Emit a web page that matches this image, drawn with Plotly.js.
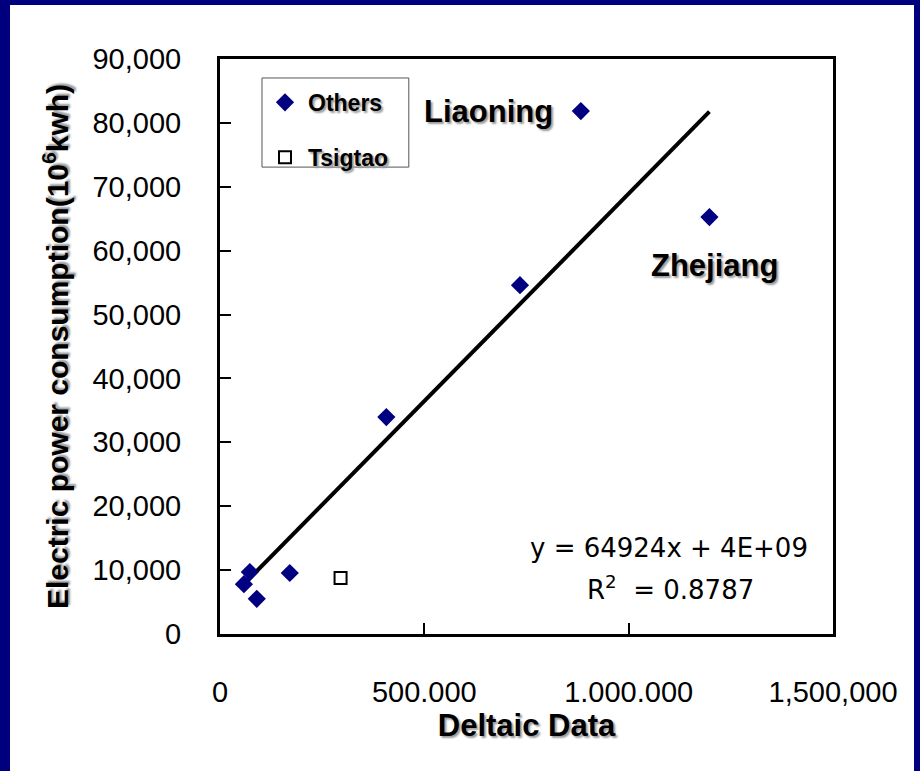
<!DOCTYPE html>
<html>
<head>
<meta charset="utf-8">
<script src="https://cdn.plot.ly/plotly-3.0.1.min.js"></script>
<style>
  html, body { margin: 0; padding: 0; width: 920px; height: 771px; background: #00007e; overflow: hidden; }
  #chart { position: absolute; left: 10px; top: 5px; width: 904px; height: 766px; }
</style>
</head>
<body>
<div id="chart"></div>
<script>
// Data
const othersX = [58500, 73000, 90000, 170700, 407000, 734000, 883000, 1197600];
const othersY = [7800, 9700, 5500, 9550, 33960, 54600, 81850, 65260];
const tsigtaoX = [295000];
const tsigtaoY = [8760];
const trendX = [58000, 1197600];
const trendY = [7770, 81750];
const xTickVals = [0, 500000, 1000000, 1500000];
const xTickText = ["0", "500.000", "1.000.000", "1,500,000"];
const yTickVals = [0, 10000, 20000, 30000, 40000, 50000, 60000, 70000, 80000, 90000];

const shadowFont = '2px 2px 2px #9a9a9a';

const traces = [
  {
    x: trendX, y: trendY, type: 'scatter', mode: 'lines',
    line: { color: '#000000', width: 4 },
    showlegend: false, hoverinfo: 'skip'
  },
  {
    x: othersX, y: othersY, type: 'scatter', mode: 'markers', name: 'Others',
    legendgroup: 'a',
    marker: { symbol: 'diamond', size: 14, color: '#000080', line: { width: 0 } }
  },
  {
    x: tsigtaoX, y: tsigtaoY, type: 'scatter', mode: 'markers', name: 'Tsigtao',
    legendgroup: 'b',
    marker: { symbol: 'square-open', size: 12, color: '#000000', line: { width: 2, color: '#000000' } }
  }
];

const layout = {
  width: 904, height: 766,
  margin: { l: 210, r: 81, t: 54, b: 137 },
  paper_bgcolor: '#ffffff',
  plot_bgcolor: '#ffffff',
  font: { family: 'Liberation Sans, Arial, sans-serif', color: '#000000' },
  xaxis: {
    range: [0, 1500000],
    tickvals: xTickVals, ticktext: xTickText,
    ticks: 'inside', ticklen: 11, tickwidth: 2, tickcolor: '#000',
    showline: true, linecolor: '#000', linewidth: 3, mirror: true,
    showgrid: false, zeroline: false,
    tickfont: { family: 'Liberation Sans, Arial, sans-serif', size: 29, color: '#000' },
    ticklabelstandoff: 30,
    title: { text: 'Deltaic Data', standoff: 6,
      font: { family: 'Liberation Sans, Arial, sans-serif', size: 31, weight: 'bold', color: '#000', shadow: shadowFont } }
  },
  yaxis: {
    range: [0, 90000],
    tickvals: yTickVals, tickformat: ',d',
    ticks: 'inside', ticklen: 11, tickwidth: 2, tickcolor: '#000',
    showline: true, linecolor: '#000', linewidth: 3, mirror: true,
    showgrid: false, zeroline: false,
    tickfont: { family: 'Liberation Sans, Arial, sans-serif', size: 29, color: '#000' },
    ticklabelstandoff: 30,
    title: { text: 'Electric power consumption(10<sup>6</sup>kwh)', standoff: 15,
      font: { family: 'Liberation Sans, Arial, sans-serif', size: 30, weight: 'bold', color: '#000', shadow: shadowFont } }
  },
  showlegend: true,
  legend: {
    x: 0.0685, y: 0.962, xanchor: 'left', yanchor: 'top',
    bgcolor: 'rgba(0,0,0,0)', borderwidth: 0,
    traceorder: 'grouped', tracegroupgap: 22, itemwidth: 36,
    font: { family: 'Liberation Sans, Arial, sans-serif', size: 23, weight: 'bold', color: '#000', shadow: shadowFont }
  },
  shapes: [
    { type: 'rect', xref: 'paper', yref: 'paper', x0: 0.0685, x1: 0.308, y0: 0.812, y1: 0.967,
      line: { color: '#555555', width: 1 }, fillcolor: 'rgba(0,0,0,0)', layer: 'below' }
  ],
  annotations: [
    { x: 656000, y: 81850, xref: 'x', yref: 'y', text: 'Liaoning', showarrow: false,
      font: { family: 'Liberation Sans, Arial, sans-serif', size: 31, weight: 'bold', color: '#000', shadow: shadowFont } },
    { x: 1209750, y: 57750, xref: 'x', yref: 'y', text: 'Zhejiang', showarrow: false,
      font: { family: 'Liberation Sans, Arial, sans-serif', size: 31, weight: 'bold', color: '#000', shadow: shadowFont } },
    { x: 1097560, y: 13460, xref: 'x', yref: 'y', text: 'y = 64924x + 4E+09', showarrow: false,
      font: { family: 'DejaVu Sans, sans-serif', size: 26, color: '#000' } },
    { x: 1102400, y: 7200, xref: 'x', yref: 'y', text: 'R<sup>2</sup>  = 0.8787', showarrow: false,
      font: { family: 'DejaVu Sans, sans-serif', size: 26, color: '#000' } }
  ]
};

Plotly.newPlot('chart', traces, layout, { displayModeBar: false, staticPlot: true });
</script>
</body>
</html>
